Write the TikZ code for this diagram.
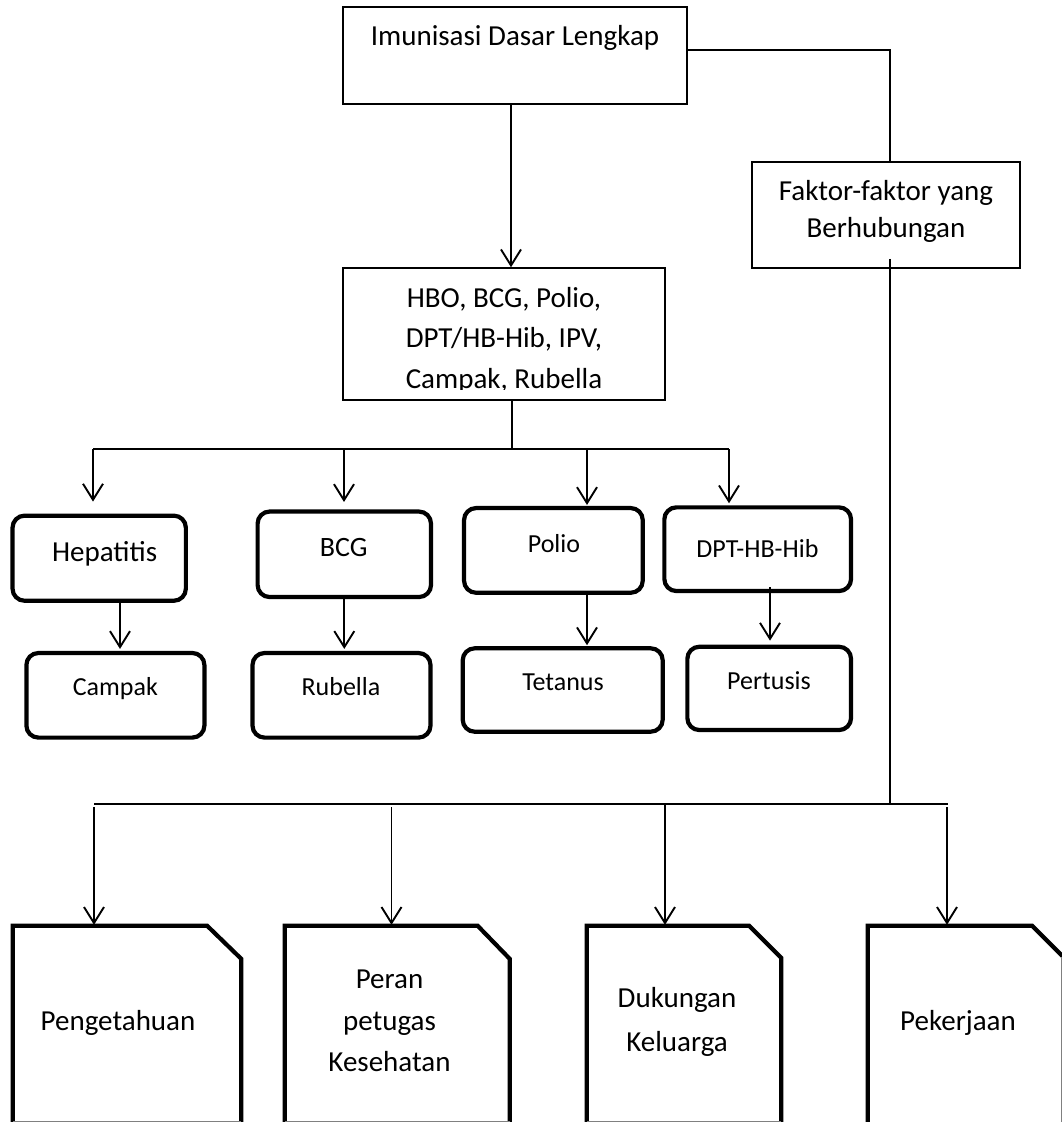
\documentclass[tikz,border=0pt]{standalone}
\usepackage{fontspec}
\setmainfont{Carlito}
\usetikzlibrary{arrows.meta}
\tikzset{
  thinbox/.style={draw, line width=1.5pt, rectangle, inner sep=0pt},
  rbox/.style={draw, line width=4.2pt, rectangle, rounded corners=12pt, inner sep=0pt},
  docarea/.style={rectangle, inner sep=0pt},
  docline/.style={line width=4.2pt, line join=miter},
  conn/.style={line width=1.9pt},
  arr/.style={line width=1.9pt, -{Straight Barb[length=16pt,width=20pt,line width=1.9pt]}},
  big/.style={anchor=base, inner sep=0pt, font=\fontsize{29}{35}\selectfont},
  mid/.style={anchor=base, inner sep=0pt, font=\fontsize{28}{34}\selectfont},
  small/.style={anchor=base, inner sep=0pt, font=\fontsize{26}{31}\selectfont},
}
\begin{document}
\begin{tikzpicture}[x=1pt,y=-1pt]
\useasboundingbox (0,0) rectangle (1062,1122);

% top level boxes
\node[thinbox, minimum width=344pt, minimum height=97pt] (top) at (515,55.5) {};
\node[thinbox, minimum width=322pt, minimum height=132pt] (hbo) at (504,334) {};
\node[thinbox, minimum width=268pt, minimum height=106pt] (fak) at (886,215) {};

% rounded boxes
\node[rbox, minimum width=173.3pt, minimum height=85.1pt] (hep) at (99.2,558.2) {};
\node[rbox, minimum width=173.4pt, minimum height=85.5pt] (bcg) at (344.3,554.3) {};
\node[rbox, minimum width=178.7pt, minimum height=84.7pt] (pol) at (553.4,550.4) {};
\node[rbox, minimum width=186.7pt, minimum height=83.7pt] (dpt) at (757.7,549.2) {};
\node[rbox, minimum width=178pt, minimum height=84.6pt] (cam) at (115.4,695.3) {};
\node[rbox, minimum width=178pt, minimum height=84.6pt] (rub) at (341.5,695.3) {};
\node[rbox, minimum width=200pt, minimum height=83.4pt] (tet) at (562.7,690) {};
\node[rbox, minimum width=163.7pt, minimum height=83.3pt] (per) at (769.2,688.4) {};

% document shaped boxes (areas)
\node[docarea, minimum width=228pt, minimum height=196pt] (peng) at (127,1024) {};
\node[docarea, minimum width=224.5pt, minimum height=196pt] (peran) at (397.25,1024) {};
\node[docarea, minimum width=194pt, minimum height=196pt] (duk) at (684,1024) {};
\node[docarea, minimum width=197pt, minimum height=196pt] (pek) at (966.5,1024) {};

\draw[docline] (peng.south west) -- (peng.north west) -- ([xshift=-34pt]peng.north east) -- ([yshift=-33pt]peng.north east) -- (peng.south east);
\draw[docline] (peran.south west) -- (peran.north west) -- ([xshift=-32pt]peran.north east) -- ([yshift=-33pt]peran.north east) -- (peran.south east);
\draw[docline] (duk.south west) -- (duk.north west) -- ([xshift=-32pt]duk.north east) -- ([yshift=-32pt]duk.north east) -- (duk.south east);
\draw[docline] (pek.south west) -- (pek.north west) -- ([xshift=-33pt]pek.north east) -- ([yshift=-33pt]pek.north east);
\draw[gray, line width=1.2pt] ([yshift=1pt]peng.south west) -- ([yshift=1pt]peng.south east);
\draw[gray, line width=1.2pt] ([yshift=1pt]peran.south west) -- ([yshift=1pt]peran.south east);
\draw[gray, line width=1.2pt] ([yshift=1pt]duk.south west) -- ([yshift=1pt]duk.south east);
\draw[gray, line width=1.2pt] ([xshift=-4pt,yshift=-31pt]pek.north east) -- ([xshift=-4pt]pek.south east);

% texts
\node[big] (t1) at (515,45) {Imunisasi Dasar Lengkap};
\node[big] (h1) at (504,307) {HBO, BCG, Polio,};
\node[big] (h2) at (504,347) {DPT/HB-Hib, IPV,};
\begin{scope}
\clip (343,268) rectangle (665,389);
\node[big] (h3) at (504,388) {Campak, Rubella};
\end{scope}
\node[big] (f1) at (886,200) {Faktor-faktor yang};
\node[big] (f2) at (886,237) {Berhubungan};
\node[big] (thep) at (104.6,561) {Hepatitis};
\node[mid] (tbcg) at (343.7,556) {BCG};
\node[small] (tpol) at (554,552) {Polio};
\node[small] (tdpt) at (757.5,557) {DPT-HB-Hib};
\node[small] (tcam) at (115.4,695) {Campak};
\node[small] (trub) at (341,695) {Rubella};
\node[small] (ttet) at (563,690) {Tetanus};
\node[small] (tper) at (769,689) {Pertusis};
\node[big] (tpeng) at (118,1030) {Pengetahuan};
\node[big] (tp1) at (389.5,988) {Peran};
\node[big] (tp2) at (389.5,1030) {petugas};
\node[big] (tp3) at (389.5,1071) {Kesehatan};
\node[big] (td1) at (677,1007) {Dukungan};
\node[big] (td2) at (677,1051) {Keluarga};
\node[big] (tpek) at (958,1030) {Pekerjaan};

% connectors, upper part
\draw[arr] ([xshift=-4pt]top.south) -- ([xshift=-4pt]top.south |- hbo.north);
\draw[conn] ([yshift=5.5pt]top.east) -| ([xshift=4pt]fak.north);

\coordinate (j) at (512,449);
\coordinate (c1) at (93,449);
\coordinate (c2) at (344,449);
\coordinate (c3) at (587,449);
\coordinate (c4) at (729,449);
\draw[conn] (hbo.south -| j) -- (j);
\draw[conn] (c1) -- (c4);
\draw[arr, shorten >=12pt] (c1) -- (c1 |- hep.north);
\draw[arr, shorten >=7.5pt] (c2) -- (c2 |- bcg.north);
\draw[arr, shorten >=1pt] (c3) -- (c3 |- pol.north);
\draw[arr, shorten >=2pt] (c4) -- (c4 |- dpt.north);

\draw[arr, shorten >=2pt] ([xshift=20.8pt]hep.south) -- ([xshift=20.8pt]hep.south |- cam.north);
\draw[arr, shorten >=2pt] (bcg.south) -- (bcg.south |- rub.north);
\draw[arr, shorten >=1pt] ([xshift=33.6pt]pol.south) -- ([xshift=33.6pt]pol.south |- tet.north);
\draw[arr, shorten >=4pt] ([xshift=12.3pt,yshift=6pt]dpt.south) -- ([xshift=12.3pt]dpt.south |- per.north);

% connectors, lower part
\coordinate (bR) at (890,804);
\coordinate (d1) at (94,804);
\coordinate (d2) at (391.5,804);
\coordinate (d3) at (665,804);
\coordinate (d4) at (947,804);
\draw[conn] ([xshift=4pt,yshift=10pt]fak.south) -- (bR);
\draw[conn] (d1) -- ([xshift=1pt]d4);
\draw[arr, shorten <=3pt, shorten >=1pt] (d1) -- (d1 |- peng.north);
\draw[arr, shorten <=3pt, shorten >=1pt] (d2) -- (d2 |- peran.north);
\draw[arr, shorten >=1pt] (d3) -- (d3 |- duk.north);
\draw[arr, shorten <=3pt, shorten >=1pt] (d4) -- (d4 |- pek.north);
\end{tikzpicture}
\end{document}
